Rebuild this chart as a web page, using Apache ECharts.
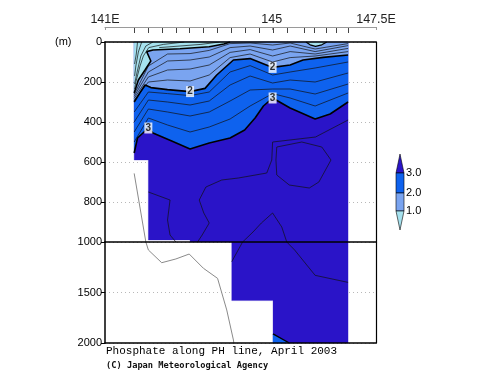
<!DOCTYPE html>
<html><head><meta charset="utf-8">
<script src="https://cdn.jsdelivr.net/npm/echarts@6/dist/echarts.min.js"></script>
<style>html,body{margin:0;padding:0;background:#fff}#c{width:500px;height:387px}</style>
</head><body><div id="c"></div>
<script>
// ---------- data ----------
const xTickValues = [141, 145, 147.5];
const xTickLabels = ['141E', '145', '147.5E'];
const stationLons = [141.70, 142.03, 142.37, 142.70, 143.02, 143.36, 143.70, 144.04, 144.37, 144.70, 145.03, 145.36, 145.79, 146.03, 146.31, 146.55, 146.83];
const levelLabels = ['3.0', '2.0', '1.0'];

// data domain (upper 0-1000 m, lower 1000-2000 m)
const domainUpper = [[141.70,0],[141.70,590],[142.04,590],[142.04,990],[143.04,990],[143.04,1000],[146.83,1000],[146.83,0]];
const domainLower = [[144.04,1000],[144.04,1580],[145.03,1580],[145.03,2000],[146.83,2000],[146.83,1000]];

// thick contour 1.0
const c1Lon = [141.70, 141.80, 141.96, 142.10, 142.00, 142.15, 142.80, 143.50, 143.85, 144.00];
const c1Dep = [255, 190, 140, 95, 48, 40, 34, 24, 10, 0];
const bumpLon = [145.82, 145.92, 146.05, 146.20, 146.32];
const bumpDep = [0, 14, 22, 14, 0];
// thick contour 2.0
const c2Lon = [141.70, 141.85, 141.96, 142.10, 142.50, 143.04, 143.40, 143.68, 144.08, 144.48, 145.02, 145.44, 145.75, 146.23, 146.83];
const c2Dep = [300, 250, 215, 228, 238, 248, 232, 165, 90, 83, 127, 115, 90, 77, 65];
// thick contour 3.0
const c3Lon = [141.70, 141.78, 142.04, 142.15, 142.60, 143.04, 143.50, 144.00, 144.35, 144.60, 144.80, 145.02, 145.44, 146.04, 146.40, 146.83];
const c3Dep = [555, 480, 430, 455, 495, 535, 505, 480, 440, 380, 320, 280, 330, 385, 360, 300];
// bottom 3.0 crossing in deep water
const c3DeepLon = [145.03, 145.42];
const c3DeepDep = [1910, 2000];

// thin contours (shared longitudes)
const thinLon = [141.70, 142.04, 142.50, 143.04, 143.50, 144.00, 144.48, 145.02, 145.44, 146.04, 146.83];
const t12 = [262, 120, 60, 58, 42, 8, 5, 15, 5, 35, 8];
const t14 = [272, 150, 95, 90, 75, 28, 20, 40, 20, 48, 18];
const t16 = [282, 175, 140, 135, 115, 52, 38, 70, 48, 60, 32];
const t18 = [292, 200, 190, 195, 165, 78, 60, 100, 78, 70, 48];
const t22 = [350, 250, 258, 268, 250, 150, 118, 165, 150, 130, 100];
const t24 = [400, 290, 300, 315, 295, 215, 170, 205, 190, 200, 155];
const t26 = [450, 335, 350, 370, 350, 295, 240, 235, 235, 260, 210];
const t28 = [500, 380, 415, 450, 425, 385, 320, 258, 280, 320, 255];

// thin contours in the low-concentration wedge near the coast
const tcA = [[141.78,0],[141.75,60],[141.71,110]];
const tcB = [[141.88,0],[141.80,50],[141.74,120],[141.71,170]];
const tcC = [[142.15,0],[141.98,20],[141.86,70],[141.77,150],[141.71,210]];
const tcD = [[142.90,0],[142.40,12],[142.05,28],[141.92,70],[141.84,120],[141.74,200],[141.71,235]];
const tcE = [[143.75,0],[143.30,12],[142.80,20],[142.30,28]];

// thin contours in deep (>3.0) water
const deepA = [[146.83,390],[146.05,475],[145.02,500],[145.00,590],[144.88,655],[144.20,680],[143.80,690],[143.42,725],[143.26,790],[143.37,855],[143.50,905],[143.33,965],[143.22,1000]];
const deepB = [[142.04,750],[142.56,790],[142.50,890],[142.56,965],[142.70,1000]];
const deepC = [[145.12,525],[145.72,500],[146.20,525],[146.42,590],[146.13,700],[145.90,730],[145.42,715],[145.12,665],[145.10,590],[145.12,525]];
const deepD = [[144.30,1000],[144.55,950],[144.75,905],[145.02,855],[145.24,925],[145.36,1000]];
const deepDLowL = [[144.30,1000],[144.04,1195]];
const deepDLowR = [[145.36,1000],[145.55,1080],[146.04,1330],[146.83,1400]];

// bottom topography (grey)
const topoUpper = [[141.70,657],[141.98,1000]];
const topoLower = [[141.98,1000],[142.04,1079],[142.36,1205],[142.70,1168],[143.02,1119],[143.36,1260],[143.70,1360],[143.92,1673],[144.08,1970],[144.09,2000]];

// contour labels
const contourLabels = [[143.04,248,'2'],[145.02,127,'2'],[145.02,280,'3'],[142.04,430,'3']];

// ---------- build ----------
const zip = (a, b) => a.map((v, i) => [v, b[i]]);
const COL = {cyan:'#a6e2ef', light:'#7aa4f0', blue:'#0e62ee', dark:'#2a14c8'};

const c1Pts = zip(c1Lon, c1Dep), c2Pts = zip(c2Lon, c2Dep), c3Pts = zip(c3Lon, c3Dep);
const bumpPts = zip(bumpLon, bumpDep);
const polysUpper = [
  domainUpper,
  [[141.70,0]].concat(c3Pts, [[146.83,0]]),
  [[141.70,0]].concat(c2Pts, [[146.83,0]]),
  [[141.70,0]].concat(c1Pts),
  bumpPts
];
const colorsUpper = [COL.dark, COL.blue, COL.light, COL.cyan, COL.cyan];
const c3DeepPts = zip(c3DeepLon, c3DeepDep);
const polysLower = [domainLower, c3DeepPts.concat([[145.03,2000]])];
const colorsLower = [COL.dark, COL.blue];

function polySeries(polys, colors, xi, yi) {
  return {
    type: 'custom', xAxisIndex: xi, yAxisIndex: yi, silent: true, animation: false,
    data: polys.map((p, i) => [p[0][0], p[0][1], i]),
    renderItem: function (params, api) {
      const i = api.value(2);
      return {type: 'polygon', shape: {points: polys[i].map(p => api.coord(p))},
              style: {fill: colors[i], stroke: colors[i], lineWidth: 0.3}};
    }
  };
}
function lineS(data, xi, yi, w, color) {
  return {type: 'line', data: data, xAxisIndex: xi, yAxisIndex: yi, symbol: 'none', silent: true,
          animation: false, lineStyle: {color: color || '#111', width: w}, z: 3};
}

const series = [
  polySeries(polysUpper, colorsUpper, 0, 0),
  polySeries(polysLower, colorsLower, 4, 3)
];
[t12, t14, t16, t18, t22, t24, t26, t28].forEach(t => series.push(lineS(zip(thinLon, t), 0, 0, 0.7)));
[tcA, tcB, tcC, tcD, tcE, deepA, deepB, deepC, deepD].forEach(t => series.push(lineS(t, 0, 0, 0.7)));
[deepDLowL, deepDLowR].forEach(t => series.push(lineS(t, 4, 3, 0.7)));
series.push(lineS(c1Pts, 0, 0, 1.6, '#000'));
series.push(lineS(bumpPts, 0, 0, 1.2, '#000'));
series.push(lineS(c2Pts, 0, 0, 1.6, '#000'));
series.push(lineS(c3Pts, 0, 0, 1.6, '#000'));
series.push(lineS(c3DeepPts, 4, 3, 1.4, '#000'));
series.push(lineS(topoUpper, 0, 0, 1, '#8a8a8a'));
series.push(lineS(topoLower, 4, 3, 1, '#8a8a8a'));
series.push({
  type: 'scatter', xAxisIndex: 0, yAxisIndex: 0, silent: true, animation: false, z: 5,
  data: contourLabels, symbol: 'rect', symbolSize: [8, 11],
  itemStyle: {color: '#fff'},
  label: {show: true, position: 'inside', formatter: p => p.value[2], color: '#000',
          fontSize: 10, fontWeight: 'bold', fontFamily: 'Liberation Sans'}
});

const lblFont = {fontFamily: 'Liberation Sans', fontSize: 11, color: '#000', formatter: v => String(v)};
const blackLine = {show: true, onZero: false, lineStyle: {color: '#000', width: 1.5}};
const off = {show: false};
const noLine = {show: false, onZero: false};
const xBase = {type: 'value', min: 141, max: 147.5};

const option = {
  animation: false,
  backgroundColor: '#fff',
  grid: [
    {left: 105, top: 42, width: 271, height: 200},
    {left: 105, top: 242, width: 271, height: 101}
  ],
  xAxis: [
    Object.assign({gridIndex: 0, position: 'top', axisLine: blackLine, axisTick: off, axisLabel: off, splitLine: off, z: 10}, xBase),
    Object.assign({gridIndex: 0, position: 'bottom', axisLine: blackLine, axisTick: off, axisLabel: off, splitLine: off, z: 10}, xBase),
    Object.assign({gridIndex: 0, position: 'top', offset: 15,
      axisLine: {show: true, onZero: false, lineStyle: {color: '#9a9a9a', width: 1}},
      axisTick: {show: true, customValues: xTickValues, length: 3, inside: true, lineStyle: {color: '#9a9a9a'}},
      axisLabel: {show: true, customValues: xTickValues, margin: 1, fontSize: 12.5,
        formatter: v => xTickLabels[xTickValues.indexOf(v)] || '', fontFamily: 'Liberation Sans', color: '#222'},
      splitLine: off}, xBase),
    Object.assign({gridIndex: 0, position: 'top', offset: 9, axisLine: noLine,
      axisTick: {show: true, customValues: stationLons, length: 5, lineStyle: {color: '#444', width: 1}},
      axisLabel: off, splitLine: off}, xBase),
    Object.assign({gridIndex: 1, position: 'bottom', axisLine: blackLine, axisTick: off, axisLabel: off, splitLine: off, z: 10}, xBase)
  ],
  yAxis: [
    {gridIndex: 0, type: 'value', inverse: true, min: 0, max: 1000, interval: 200, position: 'left', z: 10,
     axisLine: blackLine, axisTick: {show: true, length: 4, lineStyle: {color: '#000'}},
     axisLabel: Object.assign({margin: 3}, lblFont), splitLine: off},
    {gridIndex: 0, type: 'value', inverse: true, min: 0, max: 1000, interval: 200, position: 'right', z: 10,
     axisLine: {show: true, onZero: false, lineStyle: {color: '#000', width: 1.2}}, axisTick: off, axisLabel: off, splitLine: off},
    {gridIndex: 0, type: 'value', inverse: true, min: 0, max: 1000, interval: 200, position: 'left', z: 0,
     axisLine: noLine, axisTick: off, axisLabel: off,
     splitLine: {show: true, lineStyle: {color: '#b8b8b8', type: [1, 3], width: 1}}},
    {gridIndex: 1, type: 'value', inverse: true, min: 1000, max: 2000, interval: 500, position: 'left', z: 10,
     axisLine: blackLine, axisTick: {show: true, length: 4, lineStyle: {color: '#000'}},
     axisLabel: Object.assign({margin: 3, showMinLabel: false}, lblFont), splitLine: off},
    {gridIndex: 1, type: 'value', inverse: true, min: 1000, max: 2000, interval: 500, position: 'right', z: 10,
     axisLine: {show: true, onZero: false, lineStyle: {color: '#000', width: 1.2}}, axisTick: off, axisLabel: off, splitLine: off},
    {gridIndex: 1, type: 'value', inverse: true, min: 1000, max: 2000, interval: 500, position: 'left', z: 0,
     axisLine: noLine, axisTick: off, axisLabel: off,
     splitLine: {show: true, lineStyle: {color: '#b8b8b8', type: [1, 3], width: 1}}}
  ],
  series: series,
  graphic: [
    {type: 'text', left: 55, top: 36, style: {text: '(m)', font: '11px "Liberation Sans"', fill: '#000'}},
    {type: 'text', left: 106, top: 346, style: {text: 'Phosphate along PH line, April 2003', font: '11px "Liberation Mono"', fill: '#000'}},
    {type: 'text', left: 106, top: 361, style: {text: '(C) Japan Meteorological Agency', font: 'bold 8.7px "DejaVu Sans Mono"', fill: '#111'}},
    // colour bar
    {type: 'polygon', shape: {points: [[396,173],[400,154],[404,173]]}, style: {fill: COL.dark, stroke: '#000', lineWidth: 0.6}},
    {type: 'rect', shape: {x: 396, y: 173, width: 8, height: 20}, style: {fill: COL.blue, stroke: '#000', lineWidth: 0.6}},
    {type: 'rect', shape: {x: 396, y: 193, width: 8, height: 18}, style: {fill: COL.light, stroke: '#000', lineWidth: 0.6}},
    {type: 'polygon', shape: {points: [[396,211],[404,211],[400,230]]}, style: {fill: COL.cyan, stroke: '#000', lineWidth: 0.6}},
    {type: 'text', left: 406, top: 167, style: {text: levelLabels[0], font: '11px "Liberation Sans"', fill: '#000'}},
    {type: 'text', left: 406, top: 187, style: {text: levelLabels[1], font: '11px "Liberation Sans"', fill: '#000'}},
    {type: 'text', left: 406, top: 205, style: {text: levelLabels[2], font: '11px "Liberation Sans"', fill: '#000'}}
  ]
};
const chart = echarts.init(document.getElementById('c'), null, {renderer: 'canvas'});
chart.setOption(option);
</script></body></html>
